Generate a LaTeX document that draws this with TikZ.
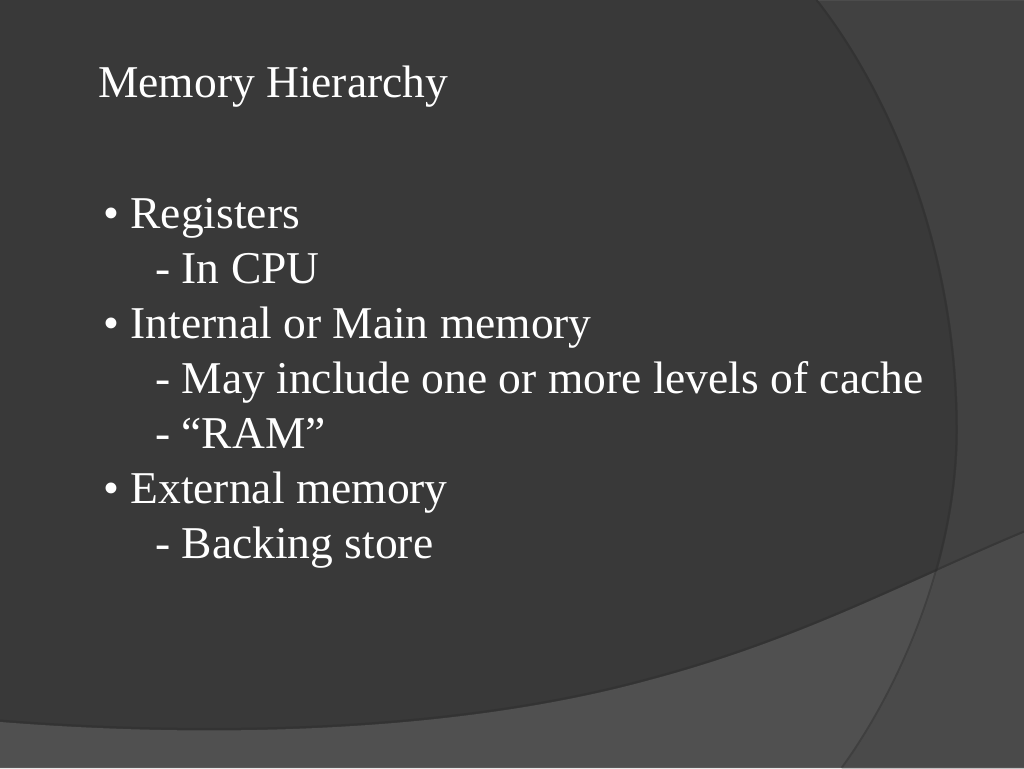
\documentclass[tikz,border=0pt]{standalone}
\usepackage{fontspec}
\setmainfont{Liberation Serif}
\definecolor{maindark}{HTML}{393939}
\definecolor{rightc}{HTML}{414141}
\definecolor{bandl}{HTML}{505050}
\definecolor{bandr}{HTML}{4A4A4A}
\definecolor{shadowc}{HTML}{2C2C2C}
\tikzset{
  slidetext/.style={anchor=base west, inner sep=0pt, text=white, font=\fontsize{45.5}{54}\selectfont},
  edgeshadow/.style={shadowc, line width=2pt, opacity=0.45},
}
\def\arcpath{(818,0) .. controls (885,85) and (958,240) .. (958,430) .. controls (958,560) and (900,690) .. (843,768)}
\def\bandpath{(0,722) .. controls (200,738) and (450,735) .. (650,680) .. controls (800,640) and (900,585) .. (1024,533)}
\begin{document}
\begin{tikzpicture}[x=1pt,y=-1pt]
\useasboundingbox (0,0) rectangle (1024,768);
% background
\fill[maindark] (0,0) rectangle (1024,768);
% right region beyond the big arc
\fill[rightc] \arcpath -- (1024,768) -- (1024,0) -- cycle;
% bottom band
\fill[bandl] \bandpath -- (1024,768) -- (0,768) -- cycle;
% band right of arc
\begin{scope}
\clip \bandpath -- (1024,768) -- (0,768) -- cycle;
\fill[bandr] \arcpath -- (1024,768) -- (1024,0) -- cycle;
\end{scope}
% soft shadows along edges
\begin{scope}[xshift=-1.5pt]
\draw[edgeshadow] \arcpath;
\end{scope}
\begin{scope}[yshift=1.5pt]
\draw[edgeshadow] \bandpath;
\end{scope}
\draw[white, line width=1pt, opacity=0.06] (818,1) -- (1024,1);
\draw[white, line width=1pt, opacity=0.06] (0,767) -- (1024,767);
% texts
\node[slidetext] (title) at (98,97) {Memory Hierarchy};
\node[slidetext] (l1) at (103,228) {• Registers};
\node[slidetext] (l2) at (155,283) {- In CPU};
\node[slidetext] (l3) at (103,338) {• Internal or Main memory};
\node[slidetext] (l4) at (155,393) {- May include one or more levels of cache};
\node[slidetext] (l5) at (155,448) {- “RAM”};
\node[slidetext] (l6) at (103,503) {• External memory};
\node[slidetext] (l7) at (155,558) {- Backing store};
\end{tikzpicture}
\end{document}
